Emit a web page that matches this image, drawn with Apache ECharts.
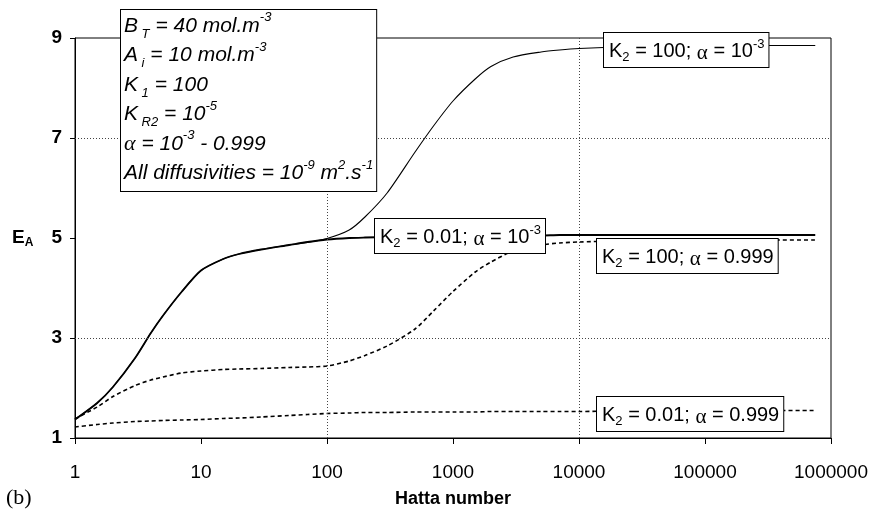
<!DOCTYPE html>
<html>
<head>
<meta charset="utf-8">
<script src="https://cdn.jsdelivr.net/npm/echarts@6/dist/echarts.min.js"></script>
<style>
html,body{margin:0;padding:0;background:#fff;}
#chart{width:872px;height:522px;}
</style>
</head>
<body>
<div id="chart"></div>
<script>
// Hatta numbers (x) shared by all curves
const hatta = [1,1.5,2,3,4,5,7,10,15,20,30,50,70,100,150,200,300,500,700,1000,1500,2000,3000,5000,7000,10000,20000,50000,100000,300000,750000];
// E_A values
const eaK2_100_a001 = [1.37,1.70,2.02,2.60,3.10,3.45,3.92,4.35,4.58,4.68,4.77,4.86,4.91,4.99,5.16,5.42,5.90,6.72,7.24,7.74,8.18,8.43,8.62,8.72,8.76,8.79,8.82,8.84,8.85,8.85,8.85];
const eaK2_001_a001 = [1.37,1.70,2.02,2.60,3.10,3.45,3.92,4.35,4.58,4.68,4.77,4.86,4.92,4.97,5.00,5.01,5.02,5.03,5.04,5.04,5.05,5.05,5.05,5.05,5.06,5.06,5.06,5.06,5.06,5.06,5.06];
const eaK2_100_a999 = [1.38,1.62,1.83,2.05,2.16,2.22,2.30,2.34,2.37,2.38,2.39,2.41,2.42,2.44,2.54,2.65,2.84,3.18,3.54,3.93,4.32,4.52,4.74,4.86,4.90,4.92,4.94,4.95,4.95,4.96,4.96];
const eaK2_001_a999 = [1.22,1.27,1.30,1.33,1.34,1.35,1.36,1.37,1.39,1.40,1.42,1.45,1.47,1.49,1.50,1.51,1.51,1.52,1.52,1.52,1.52,1.53,1.53,1.53,1.53,1.53,1.54,1.54,1.54,1.55,1.55];
// Axis ticks and gridlines
const eaTicks = [1,3,5,7,9];
const hattaGridLines = [100,10000];
const eaGridLines = [3,7];

const FONT = 'Liberation Sans, Arial, sans-serif';
const pair = arr => hatta.map((x,i)=>[x, arr[i]]);

const chart = echarts.init(document.getElementById('chart'), null, {renderer:'canvas'});

const curveRich = {
  n:{fontFamily:FONT,fontSize:20,lineHeight:26,color:'#000'},
  sub:{fontFamily:FONT,fontSize:13,lineHeight:16,verticalAlign:'bottom',color:'#000'},
  sup:{fontFamily:FONT,fontSize:13,lineHeight:14,verticalAlign:'top',color:'#000'},
  g:{fontFamily:'Liberation Serif, serif',fontSize:21,lineHeight:22,verticalAlign:'bottom',color:'#000'}
};
function curveLabel(left, top, text){
  return {
    type:'text', left:left, top:top, z:100,
    style:{text:text, rich:curveRich, backgroundColor:'#fff', borderColor:'#000', borderWidth:1, padding:[5,4,3,5]}
  };
}
const infoRich = {
  n:{fontFamily:FONT,fontSize:21,fontStyle:'italic',lineHeight:29.5,color:'#000'},
  sub:{fontFamily:FONT,fontSize:13,fontStyle:'italic',lineHeight:17.5,verticalAlign:'bottom',color:'#000'},
  sup:{fontFamily:FONT,fontSize:13,fontStyle:'italic',lineHeight:15.5,verticalAlign:'top',color:'#000'},
  g:{fontFamily:'Liberation Serif, serif',fontSize:22,fontStyle:'italic',lineHeight:29.5,color:'#000'}
};
const infoText = [
  '{n|B}{sub| T}{n| = 40 mol.m}{sup|-3}',
  '{n|A}{sub| i}{n| = 10 mol.m}{sup|-3}',
  '{n|K}{sub| 1}{n| = 100}',
  '{n|K}{sub| R2}{n| = 10}{sup|-5}',
  '{g|α}{n| = 10}{sup|-3}{n| - 0.999}',
  '{n|All diffusivities = 10}{sup|-9}{n| m}{sup|2}{n|.s}{sup|-1}'
].join('\n');

const lineBase = {type:'line', showSymbol:false, symbol:'none', smooth:0.25, silent:true, animation:false};

const option = {
  animation:false,
  backgroundColor:'#fff',
  grid:{left:75, right:41, top:38, bottom:84, show:true, borderColor:'#000', borderWidth:1, backgroundColor:'transparent'},
  xAxis:{
    type:'log', logBase:10, min:1, max:1000000, splitNumber:6,
    name:'Hatta number', nameLocation:'middle', nameGap:52,
    nameTextStyle:{fontFamily:FONT,fontSize:18,fontWeight:'bold',color:'#000'},
    axisLine:{show:true,onZero:false,lineStyle:{color:'#000',width:1}},
    axisTick:{show:true,inside:false,length:6,lineStyle:{color:'#000'}},
    axisLabel:{fontFamily:FONT,fontSize:19,color:'#000',margin:25,formatter:v=>String(Math.round(v))},
    splitLine:{show:false}, minorTick:{show:false}, minorSplitLine:{show:false}
  },
  yAxis:{
    type:'value', min:1, max:9,
    axisLine:{show:true,onZero:false,lineStyle:{color:'#000',width:1}},
    axisTick:{show:true,inside:false,length:5,customValues:eaTicks,lineStyle:{color:'#000'}},
    axisLabel:{fontFamily:FONT,fontSize:19,fontWeight:'bold',color:'#000',margin:13,customValues:eaTicks},
    splitLine:{show:false}
  },
  series:[
    Object.assign({}, lineBase, {
      name:'K2 = 100; α = 1e-3', data:pair(eaK2_100_a001), z:3,
      lineStyle:{color:'#000',width:1.1,type:'solid'},
      markLine:{silent:true, symbol:'none', label:{show:false}, animation:false,
        lineStyle:{color:'#444',width:1,type:[1,2]},
        emphasis:{disabled:true},
        data:eaGridLines.map(v=>({yAxis:v})).concat(hattaGridLines.map(v=>({xAxis:v})))}
    }),
    Object.assign({}, lineBase, {
      name:'K2 = 0.01; α = 1e-3', data:pair(eaK2_001_a001), z:4,
      lineStyle:{color:'#000',width:1.8,type:'solid'}
    }),
    Object.assign({}, lineBase, {
      name:'K2 = 100; α = 0.999', data:pair(eaK2_100_a999), z:3,
      lineStyle:{color:'#000',width:1.6,type:[4,3]}
    }),
    Object.assign({}, lineBase, {
      name:'K2 = 0.01; α = 0.999', data:pair(eaK2_001_a999), z:3,
      lineStyle:{color:'#000',width:1.6,type:[4,3]}
    })
  ],
  graphic:[
    {type:'text', left:120, top:9, z:100,
     style:{text:infoText, rich:infoRich, backgroundColor:'#fff', borderColor:'#000', borderWidth:1, padding:[1,3,3,3]}},
    curveLabel(603, 32, '{n|K}{sub|2}{n| = 100; }{g|α}{n| = 10}{sup|-3}'),
    curveLabel(374, 218, '{n|K}{sub|2}{n| = 0.01; }{g|α}{n| = 10}{sup|-3}'),
    curveLabel(596, 238, '{n|K}{sub|2}{n| = 100; }{g|α}{n| = 0.999}'),
    curveLabel(596, 396, '{n|K}{sub|2}{n| = 0.01; }{g|α}{n| = 0.999}'),
    {type:'text', left:12, top:228, z:100,
     style:{text:'{e|E}{a|A}', rich:{
       e:{fontFamily:FONT,fontSize:19,fontWeight:'bold',lineHeight:22,color:'#000'},
       a:{fontFamily:FONT,fontSize:12,fontWeight:'bold',lineHeight:16,verticalAlign:'bottom',color:'#000'}}}},
    {type:'text', left:6, top:487, z:100,
     style:{text:'(b)', fontFamily:'Liberation Serif, serif', fontSize:22, fill:'#000'}}
  ]
};
chart.setOption(option);
</script>
</body>
</html>
